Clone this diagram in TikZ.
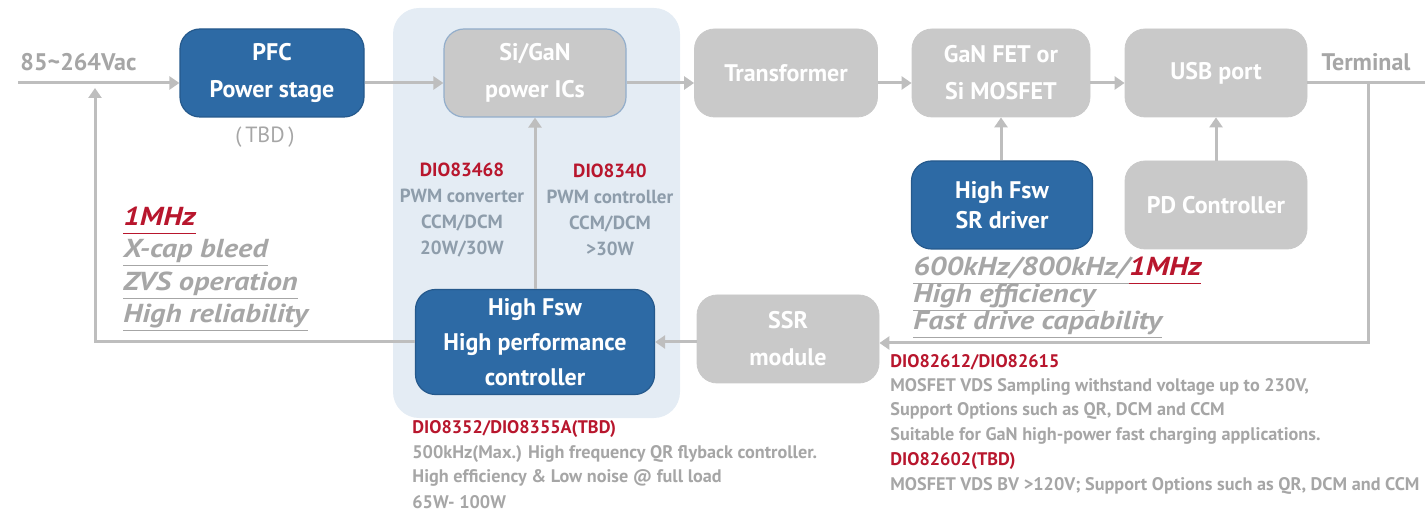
\documentclass[tikz,border=0pt]{standalone}
\usepackage{graphicx}
\usepackage{fontspec}
\setmainfont{PT Sans}
\usetikzlibrary{arrows.meta}
\definecolor{dblue}{HTML}{2D6AA5}
\definecolor{dblueb}{HTML}{25598C}
\definecolor{boxgray}{HTML}{C9C9C9}
\definecolor{linegray}{HTML}{BEBEBE}
\definecolor{panelblue}{HTML}{E4ECF4}
\definecolor{dred}{HTML}{B8162D}
\definecolor{txtgray}{HTML}{A6A6A6}
\definecolor{paneltxt}{HTML}{8E9DAB}
\definecolor{sigborder}{HTML}{93AECB}
\newcommand{\ulg}[1]{\underline{\vphantom{g}#1}}
\newcommand{\wide}[1]{\scalebox{1.17}[1]{#1}}
\tikzset{
  box/.style={rounded corners=10pt, minimum height=44pt, align=center, inner sep=0pt,
    font=\bfseries\fontsize{12}{18.5}\selectfont},
  bluebox/.style={box, fill=dblue, draw=dblueb, line width=0.6pt, text=white},
  graybox/.style={box, fill=boxgray, draw=boxgray, text=white},
  wire/.style={draw=linegray, line width=1.5pt},
  conn/.style={wire, -{Triangle[length=5pt,width=6.5pt]}},
  plain/.style={inner sep=0pt, text=txtgray, font=\bfseries\fontsize{12}{14}\selectfont},
  paneltext/.style={inner sep=0pt, align=center, text=paneltxt,
    font=\bfseries\fontsize{9.5}{13}\selectfont},
  feat/.style={inner sep=0pt, anchor=west, text=txtgray, font=\bfseries\itshape\fontsize{13}{15}\selectfont},
  desc/.style={inner sep=0pt, anchor=west, text=txtgray, font=\bfseries\fontsize{9.1}{11}\selectfont},
  descred/.style={desc, text=dred}
}
\begin{document}
\begin{tikzpicture}[x=0.5pt,y=-0.5pt]
\useasboundingbox (0,0) rectangle (1425,513);
% panel
\fill[panelblue, rounded corners=13pt] (393,8) rectangle (680,418);
% boxes
\node[bluebox, minimum width=92pt] (pfc) at (272,73) {PFC\\Power stage};
\node[graybox, draw=sigborder, line width=0.6pt, minimum width=91pt] (sigan) at (535,73) {Si/GaN\\power ICs};
\node[graybox, minimum width=91.5pt] (trans) at (786,73) {Transformer};
\node[graybox, minimum width=89pt] (gan) at (1001,73) {GaN FET or\\Si MOSFET};
\node[graybox, minimum width=91pt] (usb) at (1216,73) {USB port};
\node[bluebox, minimum width=90.5pt, font=\bfseries\fontsize{12}{15}\selectfont] (sr) at (1002,205) {High Fsw\\SR driver};
\node[graybox, minimum width=91pt] (pd) at (1216,205) {PD Controller};
\node[graybox, minimum width=91pt] (ssr) at (788,339) {SSR\\module};
\node[bluebox, minimum width=119.5pt, minimum height=52.5pt, font=\bfseries\fontsize{12}{17.5}\selectfont] (ctrl) at (535,342) {High Fsw\\High performance\\controller};
% labels
\node[plain, anchor=west] (vac) at (20,62) {85\textasciitilde264Vac};
\node[plain, font=\fontsize{11}{13}\selectfont] (tbd) at (265,137) {(\,TBD\,)};
\node[plain] (termlbl) at (1366,62) {Terminal};
% coordinates
\coordinate (vin) at (18,83);
\coordinate (tj) at (1368,83);
\coordinate (tend) at (1425,83);
\coordinate (fb) at (95,88);
% connectors
\draw[conn] (vin) -- ([yshift=-5pt]pfc.west);
\draw[conn] ([yshift=-5pt]pfc.east) -- ([yshift=-5pt]sigan.west);
\draw[conn] ([yshift=-5pt]sigan.east) -- ([yshift=-5pt]trans.west);
\draw[conn] ([yshift=-5pt]trans.east) -- ([yshift=-5pt]gan.west);
\draw[conn] ([yshift=-5pt]gan.east) -- ([yshift=-5pt]usb.east -| usb.west);
\draw[wire] ([yshift=-5pt]usb.east) -- (tend);
\draw[conn] (tj) |- ([yshift=-2pt]ssr.east);
\draw[conn] (ssr.west |- ctrl.east) -- (ctrl.east);
\draw[conn] (ctrl.west) -| (fb);
\draw[conn] (ctrl.north) -- (sigan.south);
\draw[conn] (sr.north -| gan.south) -- (gan.south);
\draw[conn] (pd.north) -- (usb.south);
% panel texts
\node[paneltext] (p1) at (462,210) {\textcolor{dred}{DIO83468}\\PWM converter\\CCM/DCM\\20W/30W};
\node[paneltext] (p2) at (610,210) {\textcolor{dred}{DIO8340}\\PWM controller\\CCM/DCM\\>30W};
% feature lists
\node[feat, text=dred] (f1) at (123,221) {\wide{\ulg{1MHz}}};
\node[feat] (f2) at (123,253) {\wide{\ulg{X-cap bleed}}};
\node[feat] (f3) at (123,286) {\wide{\ulg{ZVS operation}}};
\node[feat] (f4) at (123,318) {\wide{\ulg{High reliability}}};
\node[feat] (s1) at (913,271) {\wide{\ulg{600kHz/800kHz/}\textcolor{dred}{\ulg{1MHz}}}};
\node[feat] (s2) at (913,298) {\wide{\ulg{High efficiency}}};
\node[feat] (s3) at (913,325) {\wide{\ulg{Fast drive capability}}};
% descriptions
\node[descred] (d1) at (890,362) {DIO82612/DIO82615};
\node[desc] (d2) at (890,387) {MOSFET VDS Sampling withstand voltage up to 230V,};
\node[desc] (d3) at (890,411) {Support Options such as QR, DCM and CCM};
\node[desc] (d4) at (890,436) {Suitable for GaN high-power fast charging applications.};
\node[descred] (d5) at (890,461) {DIO82602(TBD)};
\node[desc] (d6) at (890,486) {MOSFET VDS BV >120V; Support Options such as QR, DCM and CCM};
\node[descred] (c1) at (412,429) {DIO8352/DIO8355A(TBD)};
\node[desc] (c2) at (412,454) {500kHz(Max.) High frequency QR flyback controller.};
\node[desc] (c3) at (412,478) {High efficiency \& Low noise @ full load};
\node[desc] (c4) at (412,502) {65W- 100W};
\end{tikzpicture}
\end{document}
